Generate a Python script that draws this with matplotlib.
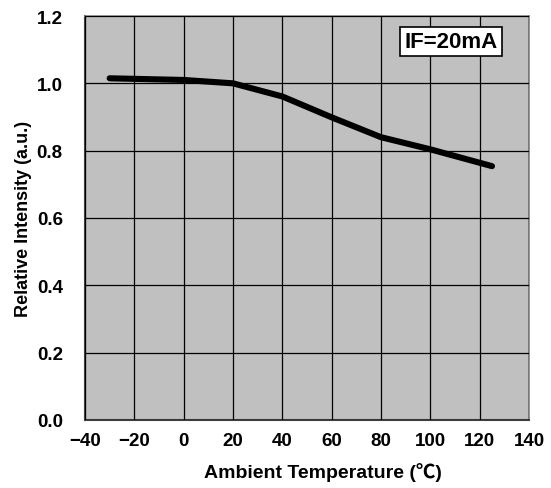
import matplotlib.pyplot as plt

plt.rcParams['font.family'] = ['Liberation Sans', 'Noto Sans CJK JP', 'DejaVu Sans']

# curve
temperature = [-30, 0, 20, 40, 60, 80, 100, 125]
intensity = [1.015, 1.01, 1.0, 0.961, 0.899, 0.84, 0.804, 0.754]

x_ticks = [-40, -20, 0, 20, 40, 60, 80, 100, 120, 140]
y_ticks = [0.0, 0.2, 0.4, 0.6, 0.8, 1.0, 1.2]

fig = plt.figure(figsize=(5.51, 4.89), dpi=100)
ax = fig.add_axes([85 / 551, 1 - 421 / 489, (529 - 85) / 551, (421 - 17) / 489])
ax.set_facecolor('#c0c0c0')

ax.plot(temperature, intensity, color='black', linewidth=4.4,
        solid_capstyle='round', solid_joinstyle='round', zorder=3)

ax.set_xlim(-40, 140)
ax.set_ylim(0, 1.2)
ax.set_xticks(x_ticks)
ax.set_yticks(y_ticks)
ax.set_xticklabels([f'{t}'.replace('-', '\u2212') for t in x_ticks])
ax.set_yticklabels([f'{v:.1f}' for v in y_ticks])
ax.tick_params(length=0, labelsize=13.5)
ax.tick_params(axis='x', pad=9)
ax.tick_params(axis='y', pad=16)
for lab in ax.get_xticklabels() + ax.get_yticklabels():
    lab.set_fontweight('bold')

ax.grid(True, color='black', linewidth=0.9)
ax.set_axisbelow(False)

for side in ['top', 'right']:
    ax.spines[side].set_color('#808080')
    ax.spines[side].set_linewidth(1.2)
for side in ['left', 'bottom']:
    ax.spines[side].set_color('#404040')
    ax.spines[side].set_linewidth(1.5)

ax.set_xlabel('Ambient Temperature (\u2103)', fontsize=14, fontweight='bold', labelpad=9)
ax.xaxis.label.set_x(0.535)
ax.set_ylabel('Relative Intensity (a.u.)', fontsize=13, fontweight='bold', labelpad=3)

# annotation box, centre at pixel (451, 42.5)
ax.text(-40 + (451 - 85) / (529 - 85) * 180, 1.2 * (421 - 42.5) / 404, 'IF=20mA',
        ha='center', va='center', fontsize=16, fontweight='bold', zorder=5,
        bbox=dict(boxstyle='square,pad=0.18', facecolor='white', edgecolor='black', linewidth=1.2))

fig.savefig('out.png', dpi=100)
